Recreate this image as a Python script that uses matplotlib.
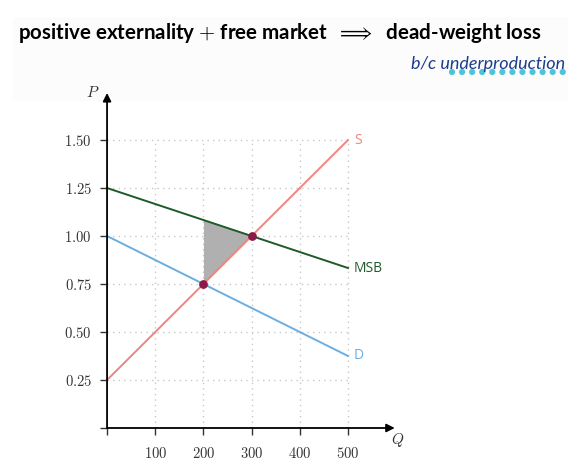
import numpy as np
import matplotlib
matplotlib.use("Agg")
import matplotlib.pyplot as plt
from matplotlib.patches import Rectangle
from matplotlib.lines import Line2D

plt.rcParams['mathtext.fontset'] = 'cm'
plt.rcParams['font.family'] = ['DejaVu Serif']

# data
q = np.array([0, 500])
supply = np.array([0.25, 1.50])
demand = np.array([1.00, 0.375])
msb = np.array([1.25, 0.8333])
dwl_q = np.array([200, 300])
eq_q = [200, 300]
eq_p = [0.75, 1.00]
xticks = [0, 100, 200, 300, 400, 500]
yticks = [0, 0.25, 0.50, 0.75, 1.00, 1.25, 1.50]

s_col = "#ee8580"
d_col = "#6aaee2"
msb_col = "#1f5a2a"
pt_col = "#8c1a48"

fig = plt.figure(figsize=(5.68, 4.72), dpi=100)
fig.patches.append(Rectangle((13/568, 1 - 100/472), 1, 82/472, transform=fig.transFigure,
                             color="#fcfcfc", zorder=-5))

ax = fig.add_axes([0.1715, 0.0729, 0.5345, 0.7362])
ax.set_xlim(-20, 610)
ax.set_ylim(-0.05, 1.76)
ax.patch.set_alpha(0)

# grid
for x in xticks[1:]:
    ax.plot([x, x], [0, 1.5], color="#c8c8c8", lw=1, ls=(0, (1, 3)), zorder=1)
for y in yticks[1:]:
    ax.plot([0, 500], [y, y], color="#c8c8c8", lw=1, ls=(0, (1, 3)), zorder=1)

# dead-weight loss triangle
qq = np.linspace(dwl_q[0], dwl_q[1], 50)
s_line = np.interp(qq, q, supply)
m_line = np.interp(qq, q, msb)
ax.fill_between(qq, s_line, m_line, color="#b0b0b0", lw=0, zorder=2)

ax.plot(q, supply, color=s_col, lw=1.4, zorder=3)
ax.plot(q, demand, color=d_col, lw=1.4, zorder=3)
ax.plot(q, msb, color=msb_col, lw=1.4, zorder=3)
ax.scatter(eq_q, eq_p, s=28, color=pt_col, zorder=4)

lab = dict(fontsize=10, family="Open Sans", va="center", ha="left")
ax.text(512, supply[1], "S", color=s_col, **lab)
ax.text(512, msb[1], "MSB", color=msb_col, **lab)
ax.text(512, demand[1], "D", color=d_col, **lab)

# axes with arrows
for side in ["top", "right", "left", "bottom"]:
    ax.spines[side].set_visible(False)
ax.spines["left"].set_position(("data", 0))
ax.spines["bottom"].set_position(("data", 0))
ax.annotate("", xy=(597, 0), xytext=(0, 0),
            arrowprops=dict(arrowstyle="-|>", color="black", lw=1.3, mutation_scale=12, shrinkA=0, shrinkB=0))
ax.annotate("", xy=(0, 1.745), xytext=(0, 0),
            arrowprops=dict(arrowstyle="-|>", color="black", lw=1.3, mutation_scale=12, shrinkA=0, shrinkB=0))

ax.set_xticks(xticks)
ax.set_xticklabels([""] + ["$%d$" % x for x in xticks[1:]])
ax.set_yticks(yticks)
ax.set_yticklabels([""] + ["$%.2f$" % y for y in yticks[1:]])
ax.tick_params(direction="out", length=5, width=1, labelsize=10.5, colors="#333333", pad=8)
ax.tick_params(axis="y", pad=6)

ax.text(-29, 1.75, "$P$", fontsize=11, ha="center", va="center", color="#333333", zorder=10)
ax.text(603, -0.065, "$Q$", fontsize=11, ha="center", va="center", color="#333333")

fig.text(18/568, 1 - 33/472,
         "positive externality $+$ free market $\\;\\Longrightarrow\\;$ dead-weight loss",
         fontsize=14.8, family="Lato", weight="bold", va="center", ha="left")

# handwritten note
fig.lines.append(Line2D([452/568, 564/568], [1 - 72/472, 1 - 72/472], transform=fig.transFigure,
                        color="#4cc4dc", lw=4.5, ls=(0, (0.01, 1.6)), solid_capstyle="round",
                        dash_capstyle="round", zorder=1))
fig.text(411/568, 1 - 64/472, "b/c underproduction", fontsize=13, family="Lato",
         style="italic", color="#1c3c8c", va="center", ha="left", zorder=2)

fig.savefig("out.png", dpi=100)
